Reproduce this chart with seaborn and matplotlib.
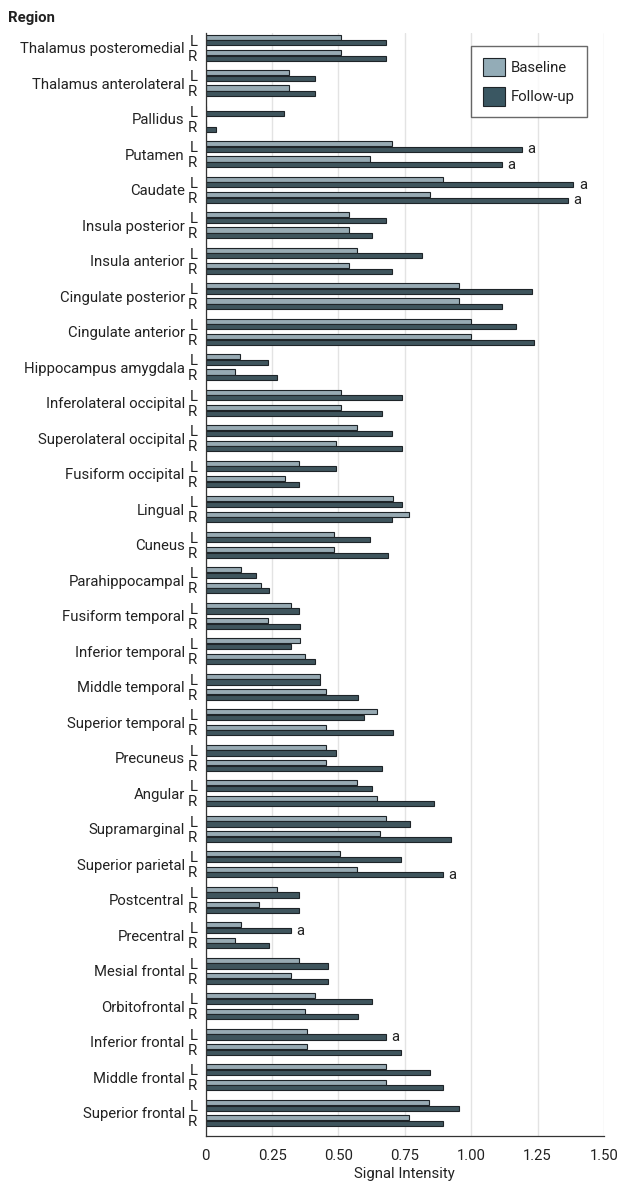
import numpy as np
import pandas as pd
import matplotlib
matplotlib.use("Agg")
import matplotlib.pyplot as plt
from matplotlib.patches import Patch
import seaborn as sns

# ---- data -------------------------------------------------------------
regions = [
    "Thalamus posteromedial", "Thalamus anterolateral", "Pallidus", "Putamen",
    "Caudate", "Insula posterior", "Insula anterior", "Cingulate posterior",
    "Cingulate anterior", "Hippocampus amygdala", "Inferolateral occipital",
    "Superolateral occipital", "Fusiform occipital", "Lingual", "Cuneus",
    "Parahippocampal", "Fusiform temporal", "Inferior temporal",
    "Middle temporal", "Superior temporal", "Precuneus", "Angular",
    "Supramarginal", "Superior parietal", "Postcentral", "Precentral",
    "Mesial frontal", "Orbitofrontal", "Inferior frontal", "Middle frontal",
    "Superior frontal",
]
baseline_L = [0.51, 0.315, 0.0, 0.70, 0.895, 0.54, 0.57, 0.955, 1.00, 0.13,
              0.51, 0.57, 0.35, 0.705, 0.485, 0.135, 0.32, 0.355, 0.43, 0.645,
              0.455, 0.57, 0.68, 0.505, 0.27, 0.135, 0.35, 0.41, 0.38, 0.68,
              0.84]
followup_L = [0.68, 0.41, 0.295, 1.19, 1.385, 0.68, 0.815, 1.23, 1.17, 0.235,
              0.74, 0.70, 0.49, 0.74, 0.62, 0.19, 0.35, 0.32, 0.43, 0.595,
              0.49, 0.625, 0.77, 0.735, 0.35, 0.32, 0.46, 0.625, 0.68, 0.845,
              0.955]
baseline_R = [0.51, 0.315, 0.0, 0.62, 0.845, 0.54, 0.54, 0.955, 1.00, 0.11,
              0.51, 0.49, 0.30, 0.765, 0.485, 0.21, 0.235, 0.375, 0.455, 0.455,
              0.455, 0.645, 0.655, 0.57, 0.20, 0.11, 0.32, 0.375, 0.38, 0.68,
              0.765]
followup_R = [0.68, 0.41, 0.04, 1.115, 1.365, 0.625, 0.70, 1.115, 1.235, 0.27,
              0.665, 0.74, 0.35, 0.70, 0.685, 0.24, 0.355, 0.41, 0.575, 0.705,
              0.665, 0.86, 0.925, 0.895, 0.35, 0.24, 0.46, 0.575, 0.735, 0.895,
              0.895]
sides = ["L", "R"]
timepoints = ["Baseline", "Follow-up"]
# follow-up bars marked with a superscript "a"
flagged = [("Putamen", "L"), ("Putamen", "R"), ("Caudate", "L"),
           ("Caudate", "R"), ("Superior parietal", "R"), ("Precentral", "L"),
           ("Inferior frontal", "L")]
x_ticks = [0, 0.25, 0.50, 0.75, 1.00, 1.25, 1.50]
x_tick_labels = ["0", "0.25", "0.50", "0.75", "1.00", "1.25", "1.50"]

# ---- long table -------------------------------------------------------
SIDE_OFFSET = {"L": 0.0, "R": 0.432}
series = {("L", "Baseline"): baseline_L, ("L", "Follow-up"): followup_L,
          ("R", "Baseline"): baseline_R, ("R", "Follow-up"): followup_R}
rows = []
for i, reg in enumerate(regions):
    for s in sides:
        for t in timepoints:
            rows.append({"region": reg, "side": s, "time": t,
                         "value": series[(s, t)][i],
                         "pos": i + SIDE_OFFSET[s]})
df = pd.DataFrame(rows)

# ---- style ------------------------------------------------------------
sns.set_style("white")
plt.rcParams["font.family"] = ["Roboto", "DejaVu Sans"]
plt.rcParams["font.size"] = 10.7
text_color = "#222222"

base_color = "#93acb7"
follow_color = "#3a5762"
edge_color = "#1e2428"

fig = plt.figure(figsize=(6.25, 11.84), dpi=100)
ax = fig.add_axes([0.329, 0.0405, 0.6374, 0.9316])

sns.barplot(data=df, x="value", y="pos", hue="time", hue_order=timepoints,
            orient="h", native_scale=True, dodge=True, width=0.75, gap=0.12,
            palette=[base_color, follow_color], errorbar=None,
            edgecolor=edge_color, linewidth=0.8, legend=False, ax=ax)

n = len(regions)
ax.set_xlim(0, 1.5)
ax.set_ylim(n - 1 + 0.87, -0.197)

# vertical grid
ax.set_xticks(x_ticks)
ax.set_xticklabels(x_tick_labels, color=text_color, fontsize=10.7)
ax.xaxis.grid(True, color="#e3e3e3", linewidth=1.0)
ax.yaxis.grid(False)
ax.set_axisbelow(True)

for sp in ["top", "right"]:
    ax.spines[sp].set_visible(False)
for sp in ["left", "bottom"]:
    ax.spines[sp].set_color("#333333")
    ax.spines[sp].set_linewidth(0.9)

ax.tick_params(axis="x", which="major", direction="out", length=5,
               width=0.9, color="#333333", pad=4)

# region names on major ticks, L/R on minor ticks
centers = [i + SIDE_OFFSET["R"] / 2 for i in range(n)]
ax.set_yticks(centers)
ax.set_yticklabels(regions, color=text_color, fontsize=10.7)
lr_pos = [i + SIDE_OFFSET[s] for i in range(n) for s in sides]
ax.set_yticks(lr_pos, minor=True)
ax.set_yticklabels([s for _ in range(n) for s in sides], minor=True,
                   color=text_color, fontsize=10.7)
ax.tick_params(axis="y", which="major", length=0, pad=15)
ax.tick_params(axis="y", which="minor", length=0, pad=6)

ax.set_xlabel("Signal Intensity", color=text_color, fontsize=10.7, labelpad=3)
ax.set_ylabel("")

fig.text(0.013, 0.985, "Region", ha="left", va="center", fontsize=10.7,
         fontweight="bold", color=text_color)

# "a" markers next to flagged follow-up bars
follow_bars = ax.containers[1]
for reg, s in flagged:
    target = regions.index(reg) + SIDE_OFFSET[s]
    for bar in follow_bars:
        yc = bar.get_y() + bar.get_height() / 2
        if abs(yc - target) < 0.2:
            ax.text(bar.get_width() + 0.02, yc, "a", ha="left", va="center",
                    fontsize=10.7, color=text_color)
            break

# legend
handles = [Patch(facecolor=base_color, edgecolor=edge_color, linewidth=0.8),
           Patch(facecolor=follow_color, edgecolor=edge_color, linewidth=0.8)]
leg = ax.legend(handles, timepoints, loc="upper right",
                bbox_to_anchor=(0.957, 0.988), frameon=True, fancybox=False,
                handlelength=1.5, handleheight=1.5, labelspacing=0.75,
                borderpad=0.8, handletextpad=0.4, borderaxespad=0,
                fontsize=10.7)
leg.get_frame().set_edgecolor("#444444")
leg.get_frame().set_linewidth(1.0)
for t in leg.get_texts():
    t.set_color(text_color)

fig.savefig("out.png", dpi=100)
